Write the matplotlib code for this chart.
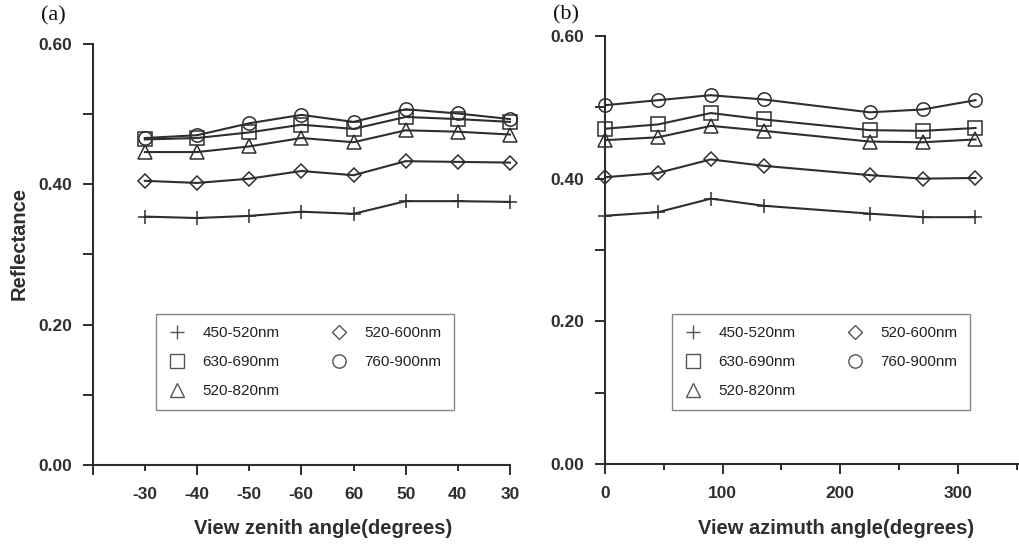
import matplotlib
matplotlib.use("Agg")
import matplotlib.pyplot as plt
from matplotlib.lines import Line2D
from matplotlib.ticker import MultipleLocator, FixedLocator, NullFormatter

# --- data ---
zenith_labels = ['-30', '-40', '-50', '-60', '60', '50', '40', '30']
zenith_pos = [1, 2, 3, 4, 5, 6, 7, 8]

zen_450_520 = [0.354, 0.352, 0.355, 0.361, 0.358, 0.376, 0.376, 0.375]
zen_520_600 = [0.405, 0.402, 0.408, 0.419, 0.413, 0.433, 0.432, 0.431]
zen_520_820 = [0.446, 0.446, 0.454, 0.466, 0.460, 0.477, 0.475, 0.471]
zen_630_690 = [0.464, 0.466, 0.474, 0.485, 0.479, 0.496, 0.493, 0.489]
zen_760_900 = [0.466, 0.470, 0.487, 0.499, 0.489, 0.507, 0.501, 0.493]

azimuth = [0, 45, 90, 135, 225, 270, 315]
az_450_520 = [0.348, 0.353, 0.372, 0.362, 0.351, 0.346, 0.346]
az_520_600 = [0.402, 0.408, 0.427, 0.418, 0.405, 0.400, 0.401]
az_520_820 = [0.454, 0.458, 0.474, 0.467, 0.452, 0.451, 0.455]
az_630_690 = [0.470, 0.476, 0.492, 0.483, 0.468, 0.467, 0.471]
az_760_900 = [0.503, 0.510, 0.517, 0.511, 0.493, 0.497, 0.510]

band_names = ['450-520nm', '630-690nm', '520-820nm', '520-600nm', '760-900nm']
band_markers = ['+', 's', '^', 'D', 'o']
band_msize = [10, 10, 10, 7.2, 9.6]

DARK = '#2e2e2e'
SANS = 'Liberation Sans'
SERIF = 'Liberation Serif'

fig = plt.figure(figsize=(10.2, 5.47), dpi=100)

# axes placed to match pixel positions of the reference
ax1 = fig.add_axes([92.7 / 1020, 1 - 465 / 547, 417.3 / 1020, 421 / 547])
ax2 = fig.add_axes([605 / 1020, 1 - 464 / 547, 414 / 1020, 428 / 547])


def draw_series(ax, x, series):
    for ys, mk, ms in zip(series, band_markers, band_msize):
        ax.plot(x, ys, color=DARK, linewidth=1.5, marker=mk, markersize=ms,
                markerfacecolor='none', markeredgecolor=DARK, markeredgewidth=1.1)


def style_axes(ax):
    ax.set_ylim(0, 0.6)
    for s in ['top', 'right']:
        ax.spines[s].set_visible(False)
    for s in ['left', 'bottom']:
        ax.spines[s].set_linewidth(1.5)
        ax.spines[s].set_color(DARK)
    ax.yaxis.set_major_locator(MultipleLocator(0.2))
    ax.yaxis.set_minor_locator(MultipleLocator(0.1))
    ax.yaxis.set_major_formatter(plt.FuncFormatter(lambda v, p: '%.2f' % v))
    ax.yaxis.set_minor_formatter(NullFormatter())
    ax.tick_params(axis='y', which='both', direction='out', length=7, width=1.4,
                   color=DARK, pad=8)
    ax.tick_params(axis='x', which='major', direction='out', length=7, width=1.4,
                   color=DARK, pad=8.5)
    ax.tick_params(axis='x', which='minor', direction='out', length=4.5, width=1.4,
                   color=DARK, pad=11)
    for lab in ax.get_yticklabels() + ax.get_xticklabels(which='both'):
        lab.set_fontfamily(SANS)
        lab.set_fontweight('bold')
        lab.set_fontsize(12.5)
        lab.set_color(DARK)


def add_legend(ax, anchor):
    handles = [Line2D([], [], linestyle='none', marker=mk, markersize=ms,
                      markerfacecolor='none', markeredgecolor='#555555',
                      markeredgewidth=1.0)
               for mk, ms in zip(band_markers, band_msize)]
    leg = ax.legend(handles, band_names, ncol=2, loc='upper left',
                    bbox_to_anchor=anchor, frameon=True, fancybox=False,
                    framealpha=1, edgecolor='#888888', borderpad=0.8,
                    labelspacing=0.98, handlelength=1.2, handletextpad=1.05,
                    columnspacing=3.3, borderaxespad=0,
                    prop={'family': SANS, 'size': 11})
    leg.get_frame().set_linewidth(1.0)
    for t in leg.get_texts():
        t.set_color('#222222')


# (a) view zenith angle
draw_series(ax1, zenith_pos, [zen_450_520, zen_630_690, zen_520_820, zen_520_600, zen_760_900])
ax1.set_xlim(0, 8)
ax1.xaxis.set_major_locator(FixedLocator([0, 2, 4, 6, 8]))
ax1.xaxis.set_minor_locator(FixedLocator([1, 3, 5, 7]))
ax1.set_xticklabels(['', zenith_labels[1], zenith_labels[3], zenith_labels[5], zenith_labels[7]])
ax1.set_xticklabels([zenith_labels[0], zenith_labels[2], zenith_labels[4], zenith_labels[6]], minor=True)
style_axes(ax1)
add_legend(ax1, (63 / 417.3, 151 / 421))

# (b) view azimuth angle
draw_series(ax2, azimuth, [az_450_520, az_630_690, az_520_820, az_520_600, az_760_900])
ax2.set_xlim(0, 352)
ax2.xaxis.set_major_locator(MultipleLocator(100))
ax2.xaxis.set_minor_locator(MultipleLocator(50))
ax2.xaxis.set_minor_formatter(NullFormatter())
style_axes(ax2)
add_legend(ax2, (66.7 / 414, 150 / 428))

for ax in (ax1, ax2):
    for line in ax.lines:
        line.set_clip_on(False)

# axis titles and panel labels
fig.text(19 / 1020, 1 - 243 / 547, 'Reflectance', rotation=90, ha='center', va='center',
         family=SANS, fontweight='bold', fontsize=14.5, color=DARK)
fig.text(323 / 1020, 1 - 528 / 547, 'View zenith angle(degrees)', ha='center', va='center',
         family=SANS, fontweight='bold', fontsize=14.5, color=DARK)
fig.text(836 / 1020, 1 - 528 / 547, 'View azimuth angle(degrees)', ha='center', va='center',
         family=SANS, fontweight='bold', fontsize=14.5, color=DARK)
fig.text(53 / 1020, 1 - 16 / 547, '(a)', ha='center', va='center',
         family=SERIF, fontsize=16, color='#111111')
fig.text(566 / 1020, 1 - 15 / 547, '(b)', ha='center', va='center',
         family=SERIF, fontsize=16, color='#111111')

fig.savefig('out.png', dpi=100)
